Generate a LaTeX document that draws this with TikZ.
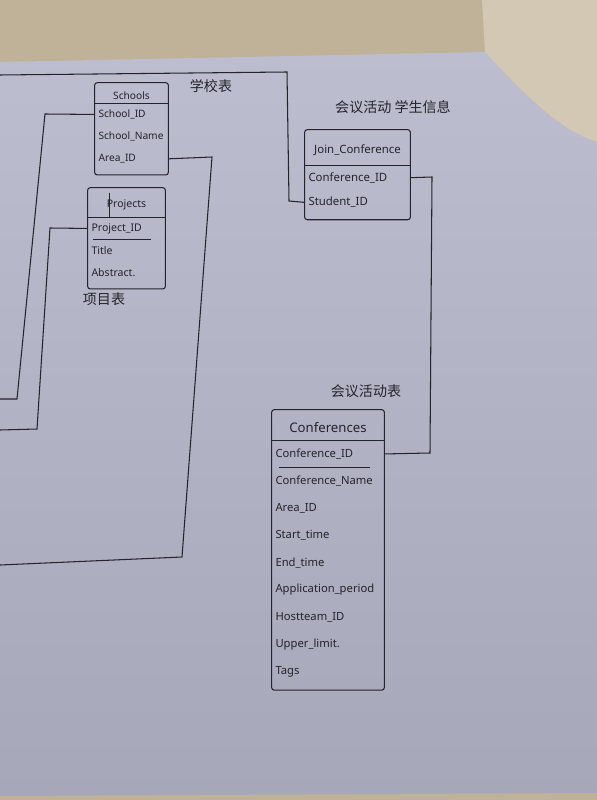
\documentclass[tikz,border=0pt]{standalone}
\usepackage{fontspec}
\setmainfont{Noto Sans}
\newfontfamily\cjk{Noto Sans CJK SC}
\usepackage{tikz}
\usetikzlibrary{positioning,fit}
\definecolor{desk}{RGB}{192,178,152}
\definecolor{tissue}{RGB}{210,200,180}
\definecolor{paperTop}{RGB}{188,189,207}
\definecolor{paperBottom}{RGB}{166,167,184}
\definecolor{pencil}{RGB}{36,36,42}
\tikzset{%
  % Specifications for style of nodes:
          base/.style = {text=pencil, inner ysep=0pt, inner xsep=2pt,
                         font=\fontsize{6.5}{7}\selectfont},
     schoolRow/.style = {base, text width=1.32cm, minimum height=0.43cm,
                         align=left, font=\fontsize{5.8}{7}\selectfont},
    projectRow/.style = {base, text width=1.40cm, minimum height=0.43cm,
                         align=left, font=\fontsize{6}{7}\selectfont},
       joinRow/.style = {base, text width=1.96cm, minimum height=0.48cm,
                         align=left},
       confRow/.style = {base, text width=2.10cm, minimum height=0.53cm,
                         align=left, font=\fontsize{6.4}{8}\selectfont},
     tableHead/.style = {base, inner xsep=0pt, align=center},
      tablebox/.style = {draw=pencil, line width=0.6pt, inner xsep=0pt,
                         inner ysep=0.1cm, rounded corners=1.5pt},
          link/.style = {draw=pencil, line width=0.6pt},
     tableName/.style = {text=pencil, font=\cjk\fontsize{8}{9}\selectfont},
}

\begin{document}
\begin{tikzpicture}[x=0.02cm, y=-0.02cm, node distance=0pt]

\useasboundingbox (0,0) rectangle (597,800);
% desk, paper, tissue
\fill[desk] (0,0) rectangle (597,800);
\shade[top color=paperTop, bottom color=paperBottom]
  (0,62) -- (485,52) .. controls (530,100) and (560,130) .. (597,142)
  -- (597,793) -- (0,796) -- cycle;
\fill[tissue] (482,0) -- (597,0) -- (597,142)
  .. controls (560,130) and (530,100) .. (485,52) -- cycle;

% Schools
\node (schools)  [tableHead, minimum width=1.46cm, minimum height=0.3cm,
                  font=\fontsize{5.8}{7}\selectfont] at (131.5,95.5) {Schools};
\node (schoolId)   [schoolRow, below=of schools]    {School\_ID};
\node (schoolName) [schoolRow, below=of schoolId]   {School\_Name};
\node (areaId)     [schoolRow, below=of schoolName] {Area\_ID};
\node (schoolsBox) [tablebox, fit=(schools)(areaId)] {};
\draw[link] (schools.south west) -- (schools.south east);

% Projects
\node (projects) [tableHead, minimum width=1.54cm, minimum height=0.48cm,
                  font=\fontsize{6}{7}\selectfont] at (126.5,205) {Projects};
\node (projectId)  [projectRow, below=of projects]  {Project\_ID};
\node (title)      [projectRow, below=of projectId] {Title};
\node (abstract)   [projectRow, below=of title]     {Abstract.};
\node (projectsBox) [tablebox, fit=(projects)(abstract)] {};
\draw[link] (projects.south west) -- (projects.south east);
\draw[link] ([xshift=0.44cm]projects.north west) -- ([xshift=0.44cm]projects.south west);
\draw[link] ([xshift=3pt]projectId.south west) -- ([xshift=-8pt]projectId.south east);

% Join_Conference
\node (join)     [tableHead, minimum width=2.1cm, minimum height=0.6cm]
                 at (357.5,150) {Join\_Conference};
\node (joinConfId) [joinRow, below=of join]       {Conference\_ID};
\node (studentId)  [joinRow, below=of joinConfId] {Student\_ID};
\node (joinBox) [tablebox, fit=(join)(studentId)] {};
\draw[link] (join.south west) -- (join.south east);

% Conferences
\node (conferences) [tableHead, minimum width=2.24cm, minimum height=0.5cm,
                     font=\fontsize{7.5}{8}\selectfont] at (328,427.5) {Conferences};
\node (confId)      [confRow, below=of conferences] {Conference\_ID};
\node (confName)    [confRow, below=of confId]      {Conference\_Name};
\node (confArea)    [confRow, below=of confName]    {Area\_ID};
\node (startTime)   [confRow, below=of confArea]    {Start\_time};
\node (endTime)     [confRow, below=of startTime]   {End\_time};
\node (appPeriod)   [confRow, below=of endTime]     {Application\_period};
\node (hostteamId)  [confRow, below=of appPeriod]   {Hostteam\_ID};
\node (upperLimit)  [confRow, below=of hostteamId]  {Upper\_limit.};
\node (tags)        [confRow, below=of upperLimit]  {Tags};
\node (confBox) [tablebox, fit=(conferences)(tags)] {};
\draw[link] (conferences.south west) -- (conferences.south east);
\draw[link] ([xshift=4pt]confId.south west) -- ([xshift=-8pt]confId.south east);

% table names
\node (schoolsName)  [tableName] at (211,86)  {学校表};
\node (projectsName) [tableName] at (104,299) {项目表};
\node (joinName)     [tableName] at (393,107) {会议活动\ 学生信息};
\node (confName)     [tableName] at (366,391) {会议活动表};

% links
\coordinate (schoolTurn)   at (45,114);
\coordinate (schoolDown)   at (17,399);
\coordinate (schoolEnd)    at (0,399);
\coordinate (projectTurn)  at (50,228);
\coordinate (projectDown)  at (37,429);
\coordinate (projectEnd)   at (0,430);
\coordinate (areaTurn)     at (212,157);
\coordinate (areaDown)     at (182,557);
\coordinate (areaEnd)      at (0,565);
\coordinate (studentStart) at (0,75);
\coordinate (studentTurn)  at (287,72);
\coordinate (studentDown)  at (289,201);
\coordinate (confTurn)     at (432,177);
\coordinate (confDown)     at (430,453);

\draw[link] (schoolId.west) -- (schoolTurn) -- (schoolDown) -- (schoolEnd);
\draw[link] (projectId.west) -- (projectTurn) -- (projectDown) -- (projectEnd);
\draw[link] (areaId.east) -- (areaTurn) -- (areaDown) -- (areaEnd);
\draw[link] (studentStart) -- (studentTurn) -- (studentDown) -- (studentId.west);
\draw[link] (joinConfId.east) -- (confTurn) -- (confDown) -- (confId.east);
\end{tikzpicture}
\end{document}
